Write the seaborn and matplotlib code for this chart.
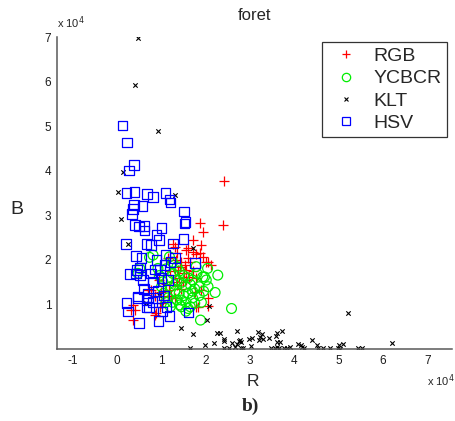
import numpy as np
import pandas as pd
import matplotlib
matplotlib.use("Agg")
import matplotlib.pyplot as plt
import seaborn as sns
from matplotlib.lines import Line2D

# values in units of 1e4
rgb_r = [2.40, 2.38, 1.86, 1.93, 1.71, 1.90, 1.30, 1.56, 1.78, 2.01,
         2.12, 0.70, 0.36, 0.32, 0.36, 0.87, 1.82, 1.00, 1.30, 1.26,
         1.60, 1.71, 1.86, 1.93, 2.04, 1.15, 1.45, 1.52, 1.37, 1.30,
         1.56, 1.63, 1.78, 1.48, 1.34, 1.18, 1.75, 1.90, 1.00, 0.85,
         1.03, 1.22, 1.78, 2.04, 0.40, 0.85, 0.96, 0.77, 1.33, 1.42,
         1.50, 1.40, 1.25, 1.55, 1.65, 1.20, 1.10, 1.45, 1.60, 1.35,
         1.70, 0.95, 1.15, 2.05]
rgb_b = [3.78, 2.79, 2.84, 2.62, 2.45, 2.34, 2.30, 2.22, 2.13, 1.96,
         1.89, 1.33, 0.99, 0.88, 0.65, 0.80, 0.95, 1.03, 1.14, 2.37,
         2.26, 2.19, 2.15, 2.07, 1.96, 2.04, 1.96, 1.89, 1.78, 1.66,
         1.78, 1.62, 1.59, 1.51, 1.44, 1.33, 1.29, 1.33, 1.29, 1.18,
         1.10, 1.18, 0.95, 0.97, 0.88, 0.76, 0.95, 1.33, 2.00, 1.85,
         1.70, 1.60, 1.50, 1.55, 1.95, 1.75, 1.45, 1.35, 2.05, 2.15,
         1.75, 1.55, 1.20, 1.15]

ycbcr_r = [2.58, 2.27, 2.21, 1.88, 1.97, 1.78, 0.81, 0.51, 0.47, 2.04,
           2.01, 1.60, 1.45, 1.03, 0.73, 1.18, 0.92, 1.41, 1.75, 1.93,
           1.10, 1.25, 1.35, 1.45, 1.55, 1.65, 1.75, 1.85, 1.20, 1.30,
           1.40, 1.50, 1.60, 1.70, 1.85, 1.15, 1.25, 1.35, 1.55, 1.65,
           1.05, 1.95, 1.50, 1.60, 1.70, 1.40, 1.15, 1.00, 1.10, 1.80,
           1.35, 1.25, 1.45, 1.90, 1.55, 0.95, 1.20, 2.05, 1.70, 1.30]
ycbcr_b = [0.91, 1.66, 1.27, 0.65, 1.62, 1.85, 2.11, 1.81, 1.70, 1.81,
           1.55, 0.91, 0.95, 1.51, 2.06, 2.07, 1.81, 0.99, 1.03, 1.62,
           1.80, 1.70, 1.55, 1.50, 1.40, 1.45, 1.35, 1.40, 1.40, 1.30,
           1.25, 1.20, 1.25, 1.15, 1.20, 1.15, 1.05, 1.10, 1.05, 0.95,
           1.25, 1.30, 1.65, 1.60, 1.55, 1.75, 1.55, 1.40, 1.05, 1.70,
           1.85, 1.95, 1.10, 1.05, 0.85, 1.65, 0.95, 1.40, 1.30, 1.45]

klt_r = [0.46, 0.41, 0.92, 0.13, 0.02, 1.31, 0.08, 0.25, 1.72, 0.94,
         0.64, 2.08, 2.03, 1.45, 1.72, 1.65, 1.98, 2.18, 2.25, 2.32,
         2.42, 2.42, 2.42, 2.53, 2.59, 2.65, 2.70, 2.74, 2.77, 2.80,
         2.70, 2.80, 2.85, 3.02, 2.97, 3.04, 3.17, 3.20, 3.26, 3.22,
         3.28, 3.42, 3.48, 3.55, 3.60, 3.65, 3.60, 3.67, 3.58, 3.61,
         3.71, 3.76, 3.84, 3.91, 4.07, 4.14, 4.17, 4.22, 4.39, 4.50,
         4.53, 4.65, 4.80, 4.98, 5.00, 5.03, 5.10, 5.20, 5.43, 5.52,
         6.20]
klt_b = [6.98, 5.93, 4.90, 3.97, 3.53, 3.46, 2.92, 2.35, 2.28, 1.21,
         1.04, 0.97, 0.65, 0.48, 0.33, 0.03, 0.08, 0.14, 0.35, 0.36,
         0.23, 0.18, 0.02, 0.03, 0.13, 0.05, 0.12, 0.18, 0.20, 0.15,
         0.41, 0.02, 0.02, 0.07, 0.22, 0.24, 0.39, 0.20, 0.33, 0.28,
         0.22, 0.24, 0.03, 0.03, 0.05, 0.03, 0.16, 0.16, 0.30, 0.35,
         0.41, 0.03, 0.03, 0.04, 0.12, 0.10, 0.05, 0.03, 0.20, 0.10,
         0.03, 0.03, 0.03, 0.03, 0.08, 0.01, 0.12, 0.80, 0.02, 0.03,
         0.13]

hsv_r = [0.12, 0.22, 0.38, 0.27, 0.21, 0.39, 0.68, 0.81, 1.09, 1.18,
         1.20, 0.38, 0.36, 0.34, 0.57, 1.51, 1.54, 0.40, 0.49, 0.60,
         0.62, 1.00, 0.89, 0.94, 0.20, 0.66, 0.77, 1.26, 1.50, 1.52,
         0.42, 0.55, 0.89, 1.09, 0.51, 0.45, 0.29, 0.51, 0.77, 0.96,
         1.07, 0.58, 0.81, 1.00, 1.15, 0.47, 0.70, 0.70, 0.92, 0.25,
         0.49, 0.72, 0.93, 1.02, 1.18, 1.11, 0.21, 0.47, 0.66, 0.66,
         0.92, 1.61, 1.76, 0.43, 0.85, 1.20, 1.30, 0.60, 0.80, 1.05]
hsv_b = [5.02, 4.64, 4.14, 4.01, 3.50, 3.53, 3.48, 3.42, 3.50, 3.36,
         3.29, 3.24, 3.14, 3.03, 3.21, 3.09, 2.86, 2.79, 2.75, 2.76,
         2.66, 2.72, 2.56, 2.45, 2.36, 2.36, 2.34, 2.37, 2.47, 2.82,
         2.09, 2.05, 2.00, 2.11, 1.83, 1.78, 1.68, 1.66, 1.70, 1.78,
         1.89, 1.55, 1.51, 1.59, 1.55, 1.18, 1.25, 1.16, 1.30, 0.84,
         0.58, 0.93, 0.63, 0.84, 0.74, 0.95, 1.03, 1.14, 1.10, 0.94,
         1.14, 0.82, 1.93, 1.70, 1.79, 1.95, 2.05, 1.35, 1.05, 1.20]

spaces = ["RGB", "YCBCR", "KLT", "HSV"]
x_ticks = [-1, 0, 1, 2, 3, 4, 5, 6, 7]
y_ticks = [1, 2, 3, 4, 5, 6, 7]

df = pd.concat([
    pd.DataFrame({"R": rgb_r, "B": rgb_b, "space": "RGB"}),
    pd.DataFrame({"R": ycbcr_r, "B": ycbcr_b, "space": "YCBCR"}),
    pd.DataFrame({"R": klt_r, "B": klt_b, "space": "KLT"}),
    pd.DataFrame({"R": hsv_r, "B": hsv_b, "space": "HSV"}),
], ignore_index=True)

# marker style per colour space
styles = {
    "RGB": dict(marker="+", color="#ff0000", s=55, linewidths=0.9),
    "YCBCR": dict(marker="o", color="#00ee00", facecolor="none", s=50, linewidths=0.9),
    "KLT": dict(marker="x", color="black", s=10, linewidths=0.8),
    "HSV": dict(marker="s", color="#0000ff", facecolor="none", s=48, linewidths=0.9),
}

sns.set_style("white")
plt.rcParams["font.family"] = ["Liberation Sans", "DejaVu Sans"]
plt.rcParams["axes.unicode_minus"] = False

fig = plt.figure(figsize=(4.55, 4.21), dpi=100)
ax = fig.add_axes([0.125, 0.171, 0.868, 0.74])

for sp in spaces:
    sub = df[df["space"] == sp]
    sns.scatterplot(data=sub, x="R", y="B", ax=ax, legend=False,
                    edgecolor=styles[sp]["color"], **styles[sp])

ax.set_xlim(-1.36, 7.55)
ax.set_ylim(0, 7)
ax.set_xticks(x_ticks)
ax.set_yticks(y_ticks)
ax.tick_params(direction="in", length=3.5, width=0.8, labelsize=8.5,
               colors="0.1", pad=4)
sns.despine(ax=ax)
for side in ["left", "bottom"]:
    ax.spines[side].set_color("0.35")
    ax.spines[side].set_linewidth(1.1)

ax.set_xlabel("")
ax.set_ylabel("")
fig.text(17 / 455, 1 - 210 / 421, "B", fontsize=14, ha="center", va="center")
fig.text(253 / 455, 1 - 381 / 421, "R", fontsize=12.5, ha="center", va="center")
fig.text(255 / 455, 1 - 16 / 421, "foret", fontsize=12, ha="center", va="center")
fig.text(57 / 455, 1 - 23 / 421, r"x 10$^{4}$", fontsize=8, ha="left", va="center")
fig.text(427 / 455, 1 - 381 / 421, r"x 10$^{4}$", fontsize=8, ha="left", va="center")
fig.text(250 / 455, 1 - 406 / 421, "b)", fontsize=14, ha="center", va="center",
         family="Liberation Serif", weight="bold")

handles = [
    Line2D([], [], ls="none", marker="+", color="#ff0000", ms=6, mew=0.9),
    Line2D([], [], ls="none", marker="o", color="#00ee00", mfc="none", ms=6, mew=0.9),
    Line2D([], [], ls="none", marker="x", color="black", ms=3, mew=0.8),
    Line2D([], [], ls="none", marker="s", color="#0000ff", mfc="none", ms=5.5, mew=0.9),
]
leg = ax.legend(handles, spaces, loc="upper right", bbox_to_anchor=(0.987, 0.985),
                borderaxespad=0, fontsize=14, frameon=True, fancybox=False,
                handlelength=1.9, handletextpad=0.45, labelspacing=0.24,
                borderpad=0.28)
leg.get_frame().set_edgecolor("black")
leg.get_frame().set_linewidth(0.9)

fig.savefig("out.png", dpi=100)
